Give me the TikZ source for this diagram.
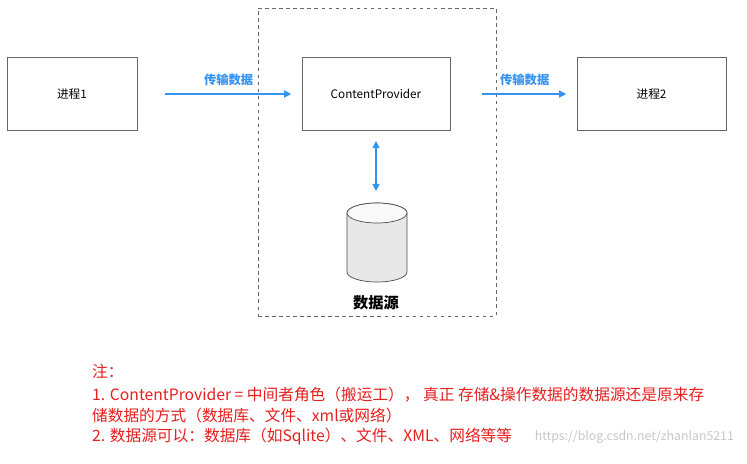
\documentclass[tikz,border=0pt]{standalone}
\usepackage{fontspec}
\setmainfont{Noto Sans CJK SC}
\usetikzlibrary{arrows.meta}
\definecolor{flow}{RGB}{52,146,240}
\definecolor{note}{RGB}{230,30,30}
\definecolor{dbfill}{RGB}{232,232,232}
\tikzset{
  box/.style={draw=black!60,fill=white,minimum width=3.9cm,minimum height=2.19cm,font=\fontsize{10}{12}\selectfont},
  flowarrow/.style={draw=flow,line width=1pt,-{Triangle[length=6pt,width=6pt]},shorten >=9pt},
  flowlabel/.style={text=flow,font=\fontsize{10.5}{12}\selectfont\bfseries},
  noteline/.style={text=note,anchor=west,font=\fontsize{13.4}{15}\selectfont}
}
\begin{document}
\begin{tikzpicture}[x=0.03cm,y=-0.03cm]
  \useasboundingbox (0,0) rectangle (747,463);
  % data source frame
  \node[draw=black!60,dashed,minimum width=7.14cm,minimum height=9.24cm] (frame) at (377,162) {};
  % boxes
  \node[box] (p1) at (72,94) {进程1};
  \node[box,minimum width=4.44cm] (cp) at (376,94) {ContentProvider};
  \node[box,minimum width=4.47cm] (p2) at (651.5,94) {进程2};
  \coordinate (a1s) at (165,94);
  \coordinate (a2s) at (482,94);
  \draw[flowarrow] (a1s) -- (cp.west) node[flowlabel,midway,above=3pt,xshift=-4pt] {传输数据};
  \draw[flowarrow] (a2s) -- (p2.west) node[flowlabel,midway,above=3pt,xshift=-4pt] {传输数据};
  % database
  \node[minimum width=1.8cm,minimum height=2.4cm] (db) at (377,243) {};
  \draw[black!70,line width=0.6pt,fill=dbfill]
    (347,213) -- (347,272) arc[start angle=180,end angle=360,x radius=0.9cm,y radius=0.3cm]
    -- (407,213) arc[start angle=0,end angle=180,x radius=0.9cm,y radius=0.3cm] -- cycle;
  \draw[black!70,line width=0.6pt,fill=gray!5] (377,213) ellipse[x radius=0.9cm,y radius=0.3cm];
  \coordinate (dbtop) at (376,191);
  \coordinate (cpbot) at (376,141);
  \draw[flowarrow,shorten >=0pt,{Triangle[length=6pt,width=6pt]}-{Triangle[length=6pt,width=6pt]}] (cpbot) -- (dbtop);
  \node[font=\fontsize{13}{15}\selectfont\bfseries] (dsname) at (376,303) {数据源};
  % notes
  \node[noteline] (n1) at (88,371) {注：};
  \node[noteline] (n2) at (88,395) {1. ContentProvider = 中间者角色（搬运工），\ 真正 存储\&操作数据的数据源还是原来存};
  \node[noteline] (n3) at (88,416) {储数据的方式（数据库、文件、xml或网络）};
  \node[noteline] (n4) at (88,437) {2. 数据源可以：数据库（如Sqlite）、文件、XML、网络等等};
  \node[text=black!22,anchor=east,font=\fontsize{10.5}{12}\selectfont] (wm) at (738,437) {https://blog.csdn.net/zhanlan5211};
\end{tikzpicture}
\end{document}
